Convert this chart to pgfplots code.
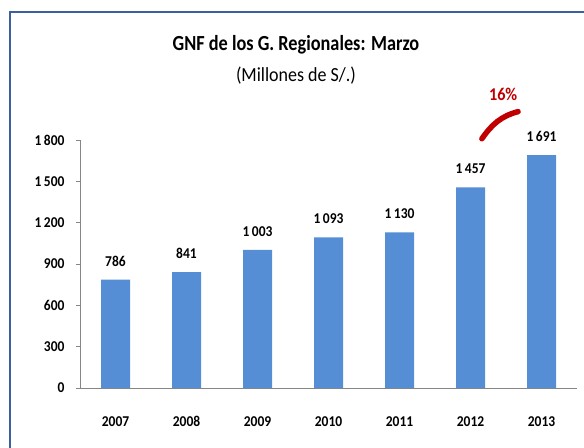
\documentclass[border=0pt]{standalone}
\usepackage{fontspec}
\setmainfont{Carlito}
\newfontfamily\lab{Carlito}[FakeStretch=0.9]
\newfontfamily\tit{Carlito}[FakeStretch=0.85]
\usepackage{pgfplots}
\pgfplotsset{compat=1.18}
\definecolor{barblue}{HTML}{558ED5}
\definecolor{frameblue}{HTML}{3B5FA0}
\definecolor{axgray}{HTML}{868686}
\definecolor{darkred}{HTML}{C00000}
\begin{document}
\begin{tikzpicture}
\useasboundingbox (0,0) rectangle (584bp,448bp);
\begin{axis}[
  at={(80bp,60bp)}, anchor=south west,
  scale only axis, width=497bp, height=248bp,
  xmin=-0.5, xmax=6.5, ymin=0, ymax=1800,
  axis x line*=bottom, axis y line*=left,
  axis line style={axgray, line width=0.8pt},
  ytick={0,300,...,1800},
  y tick style={axgray, line width=0.8pt},
  tick align=outside, major tick length=4bp,
  xtick={0,...,6},
  xticklabels={2007,2008,2009,2010,2011,2012,2013},
  x tick style={draw=none},
  extra x ticks={-0.5,0.5,1.5,2.5,3.5,4.5,5.5,6.5},
  extra x tick labels={},
  extra x tick style={tick style={axgray, line width=0.8pt, draw=axgray}, major tick length=5bp},
  xticklabel style={font=\lab\fontsize{15bp}{17bp}\selectfont\bfseries, yshift=-21bp},
  yticklabel style={font=\lab\fontsize{15bp}{17bp}\selectfont\bfseries, xshift=-8bp},
  /pgf/number format/assume math mode=true,
  /pgf/number format/1000 sep={\,},
  ybar, bar width=29bp,
  nodes near coords,
  every node near coord/.append style={font=\lab\fontsize{15bp}{17bp}\selectfont\bfseries, yshift=10bp, black},
  clip=false,
]
\addplot[fill=barblue, draw=none] coordinates {(0,786) (1,841) (2,1003) (3,1093) (4,1130) (5,1457) (6,1691)};
\draw[darkred, line width=5.5bp, line cap=round] (axis cs:5.16,1809) to[out=55,in=195] (axis cs:5.67,2006);
\node[darkred, font=\lab\fontsize{18bp}{20bp}\selectfont\bfseries] at (axis cs:5.46,2129) {16\%};
\end{axis}
\node[anchor=base, font=\tit\fontsize{21.5bp}{24bp}\selectfont\bfseries] at (296bp,397bp) {GNF de los G.~Regionales: Marzo};
\node[anchor=base, font=\lab\fontsize{20bp}{23bp}\selectfont] at (296bp,366bp) {(Millones de S/.)};
\draw[frameblue, line width=1.6bp] (10bp,-2bp) -- (10bp,436bp) -- (590bp,436bp);
\end{tikzpicture}
\end{document}
